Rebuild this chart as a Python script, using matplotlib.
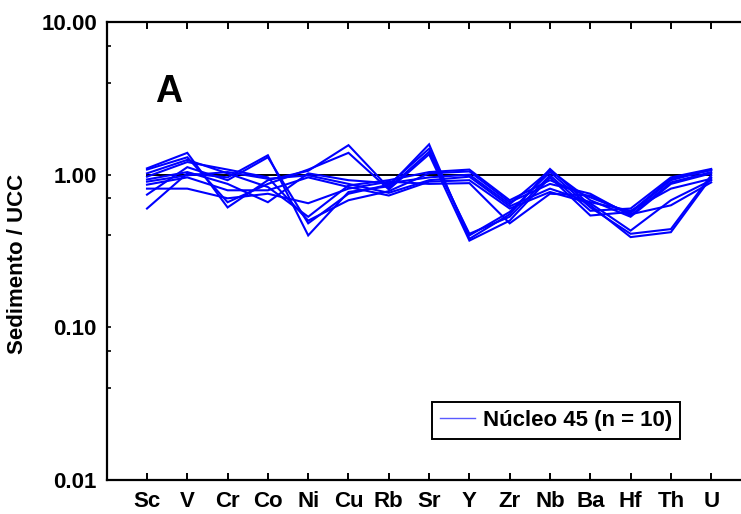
import matplotlib
matplotlib.use("Agg")
import matplotlib.pyplot as plt
from matplotlib.lines import Line2D
from matplotlib.ticker import FixedLocator, FuncFormatter

plt.rcParams['font.family'] = ['Liberation Sans', 'DejaVu Sans']
plt.rcParams['font.weight'] = 'bold'

elements = ["Sc", "V", "Cr", "Co", "Ni", "Cu", "Rb", "Sr", "Y", "Zr", "Nb", "Ba", "Hf", "Th", "U"]

# Sediment / UCC normalised values, one list per sample (core 45)
s1 = [0.60, 1.02, 0.96, 1.34, 0.40, 0.77, 0.84, 1.58, 0.38, 0.55, 1.09, 0.63, 0.39, 0.42, 0.96]
s2 = [0.74, 1.12, 0.92, 1.30, 0.48, 0.75, 0.86, 1.48, 0.40, 0.57, 1.04, 0.61, 0.41, 0.44, 0.99]
s3 = [1.10, 1.39, 0.61, 0.92, 1.06, 1.56, 0.82, 1.41, 0.41, 0.53, 0.99, 0.58, 0.60, 0.96, 1.09]
s4 = [1.08, 1.30, 0.66, 0.87, 1.08, 1.39, 0.80, 1.36, 0.37, 0.50, 0.96, 0.54, 0.57, 0.94, 1.07]
s5 = [1.02, 1.25, 1.02, 0.83, 0.53, 0.85, 0.92, 1.04, 1.08, 0.68, 0.92, 0.71, 0.56, 0.92, 1.08]
s6 = [0.97, 1.21, 1.08, 0.96, 0.50, 0.68, 0.78, 1.02, 1.05, 0.66, 0.87, 0.75, 0.54, 0.89, 1.04]
s7 = [0.93, 1.04, 0.87, 0.66, 1.02, 0.92, 0.88, 0.96, 1.00, 0.64, 1.07, 0.68, 0.53, 0.87, 1.02]
s8 = [0.90, 0.99, 1.04, 0.94, 0.99, 0.87, 0.76, 0.92, 0.97, 0.62, 0.81, 0.66, 0.58, 0.81, 0.94]
s9 = [0.86, 0.96, 0.79, 0.79, 0.96, 0.83, 0.73, 0.90, 0.92, 0.60, 0.77, 0.65, 0.43, 0.68, 0.92]
s10 = [0.81, 0.81, 0.70, 0.75, 0.65, 0.81, 0.90, 0.87, 0.88, 0.48, 0.75, 0.73, 0.55, 0.63, 0.89]
samples = [s1, s2, s3, s4, s5, s6, s7, s8, s9, s10]

reference_level = 1.0
y_major = [0.01, 0.1, 1.0, 10.0]
y_minor = [m * d for d in [0.01, 0.1, 1.0] for m in (4, 7)]

W, H = 741, 514
fig = plt.figure(figsize=(W / 100, H / 100), dpi=100)
ax = fig.add_axes([106.7 / W, 1 - 480 / H, (751.5 - 106.7) / W, (480 - 22) / H])

x = list(range(len(elements)))
for s in samples:
    ax.plot(x, s, color='#0000ff', lw=1.5, solid_joinstyle='miter', zorder=3)
ax.plot([x[0], x[-1]], [reference_level, reference_level], color='black', lw=1.4, zorder=2)

ax.set_yscale('log')
ax.set_ylim(0.01, 10)
ax.set_xlim(-1, len(elements))

ax.yaxis.set_major_locator(FixedLocator(y_major))
ax.yaxis.set_minor_locator(FixedLocator(y_minor))
ax.yaxis.set_major_formatter(FuncFormatter(lambda v, p: f"{v:.2f}"))
ax.yaxis.set_minor_formatter(FuncFormatter(lambda v, p: ""))
ax.set_xticks(x)
ax.set_xticklabels(elements)

ax.tick_params(axis='x', which='major', direction='in', length=5, width=1.4,
               top=True, labelsize=16, pad=8)
ax.tick_params(axis='y', which='major', direction='in', length=3, width=1.2,
               labelsize=16, pad=7)
ax.tick_params(axis='y', which='minor', direction='in', length=3, width=1.2)
for lab in ax.get_xticklabels() + ax.get_yticklabels():
    lab.set_fontweight('bold')

for sp in ax.spines.values():
    sp.set_linewidth(1.6)

fig.text(18 / W, 1 - 264 / H, "Sedimento / UCC", rotation=90, ha='center', va='center',
         fontsize=16, fontweight='bold')
ax.text(169 / W, 1 - 92 / H, "A", transform=fig.transFigure, ha='center', va='center',
        fontsize=27, fontweight='bold')

handle = Line2D([], [], color='#5a5aff', lw=1.0)
leg = ax.legend([handle], ["Núcleo 45 (n = 10)"], loc='upper left',
                bbox_to_anchor=(432 / W, 1 - 402 / H), bbox_transform=fig.transFigure,
                borderaxespad=0, fancybox=False, framealpha=1, edgecolor='black',
                prop={'size': 16, 'weight': 'bold'}, handlelength=1.6,
                handletextpad=0.35, borderpad=0.35)
leg.get_frame().set_linewidth(1.4)

fig.savefig("out.png", dpi=100)
